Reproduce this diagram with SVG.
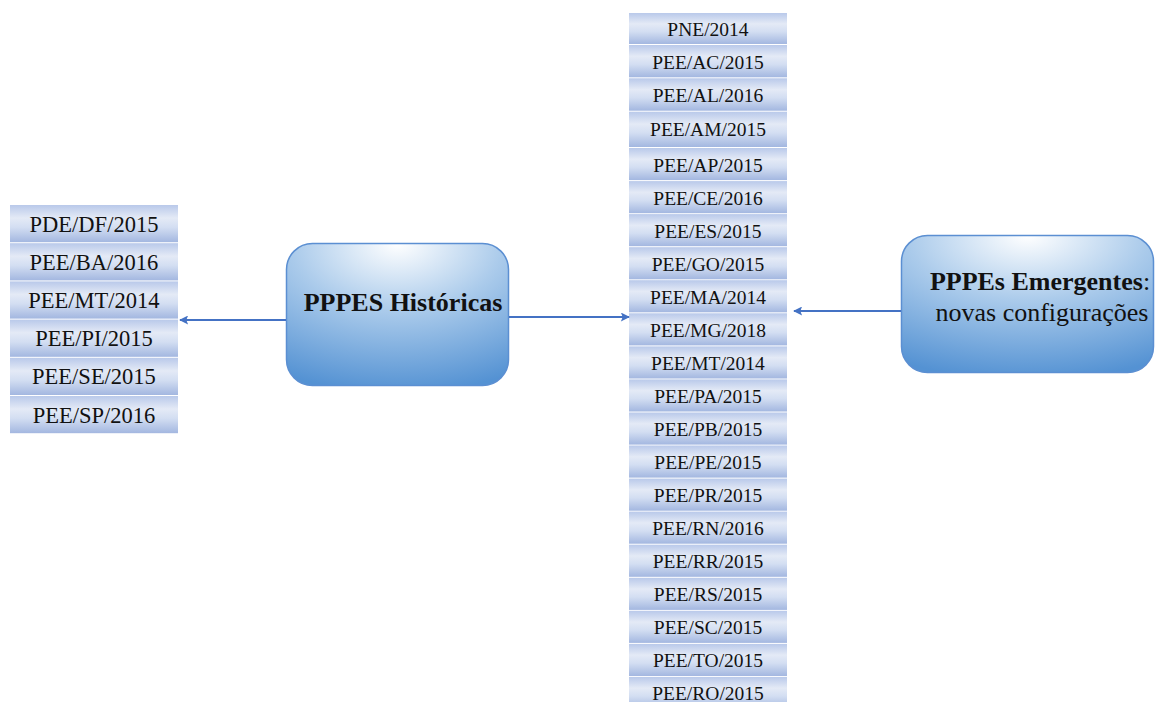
<svg xmlns="http://www.w3.org/2000/svg" width="1155" height="702" viewBox="0 0 1155 702">
  <defs>
    <linearGradient id="cellFill" x1="0" y1="0" x2="0" y2="1">
      <stop offset="0" stop-color="#b9c9ea"/>
      <stop offset="0.35" stop-color="#e4eaf6"/>
      <stop offset="0.6" stop-color="#d3def2"/>
      <stop offset="1" stop-color="#a3b7e0"/>
    </linearGradient>
    <radialGradient id="boxFill" cx="0.5" cy="0" r="1.05" fx="0.5" fy="0">
      <stop offset="0" stop-color="#ffffff"/>
      <stop offset="0.45" stop-color="#abcbeb"/>
      <stop offset="1" stop-color="#5492d3"/>
    </radialGradient>
    <marker id="arrow" viewBox="0 0 10 10" refX="9" refY="5" markerWidth="11" markerHeight="9" markerUnits="userSpaceOnUse" orient="auto">
      <path d="M0,0 L10,5 L0,10 L2,5 Z" fill="#4472c4"/>
    </marker>
    <style>
      .cell { fill: url(#cellFill); }
      .lbl { fill: #111; text-anchor: middle; font-family: 'Liberation Serif', 'Times New Roman', serif; }
      .box { fill: url(#boxFill); stroke: #5b8fd2; stroke-width: 1.5; }
      .big { fill: #111; text-anchor: middle; font-family: 'Liberation Serif', 'Times New Roman', serif; font-size: 26px; }
      .conn { stroke: #4472c4; stroke-width: 2; fill: none; marker-end: url(#arrow); }
    </style>
  </defs>

  <!-- left list -->
  <g id="left-list" font-size="22.5">
    <rect class="cell" x="10" y="205" width="168" height="37.2"/>
    <text class="lbl" x="94" y="231.5">PDE/DF/2015</text>
    <rect class="cell" x="10" y="243.2" width="168" height="37.2"/>
    <text class="lbl" x="94" y="269.7">PEE/BA/2016</text>
    <rect class="cell" x="10" y="281.4" width="168" height="37.2"/>
    <text class="lbl" x="94" y="307.9">PEE/MT/2014</text>
    <rect class="cell" x="10" y="319.6" width="168" height="37.2"/>
    <text class="lbl" x="94" y="346.1">PEE/PI/2015</text>
    <rect class="cell" x="10" y="357.8" width="168" height="37.2"/>
    <text class="lbl" x="94" y="384.3">PEE/SE/2015</text>
    <rect class="cell" x="10" y="396" width="168" height="37.2"/>
    <text class="lbl" x="94" y="422.5">PEE/SP/2016</text>
  </g>

  <!-- central list -->
  <g id="mid-list" font-size="19.5">
    <rect class="cell" x="629" y="13" width="158" height="31"/>
    <text class="lbl" x="708" y="36">PNE/2014</text>
    <rect class="cell" x="629" y="45" width="158" height="32.3"/>
    <text class="lbl" x="708" y="68.5">PEE/AC/2015</text>
    <rect class="cell" x="629" y="78.3" width="158" height="32.4"/>
    <text class="lbl" x="708" y="102">PEE/AL/2016</text>
    <rect class="cell" x="629" y="111.7" width="158" height="35.3"/>
    <text class="lbl" x="708" y="135.5">PEE/AM/2015</text>
    <rect class="cell" x="629" y="148" width="158" height="32.1"/>
    <text class="lbl" x="708" y="171.5">PEE/AP/2015</text>
    <rect class="cell" x="629" y="181.1" width="158" height="32.1"/>
    <text class="lbl" x="708" y="204.5">PEE/CE/2016</text>
    <rect class="cell" x="629" y="214.1" width="158" height="32.1"/>
    <text class="lbl" x="708" y="237.5">PEE/ES/2015</text>
    <rect class="cell" x="629" y="247.2" width="158" height="32.1"/>
    <text class="lbl" x="708" y="270.5">PEE/GO/2015</text>
    <rect class="cell" x="629" y="280.2" width="158" height="32.1"/>
    <text class="lbl" x="708" y="303.5">PEE/MA/2014</text>
    <rect class="cell" x="629" y="313.3" width="158" height="32.1"/>
    <text class="lbl" x="708" y="336.5">PEE/MG/2018</text>
    <rect class="cell" x="629" y="346.4" width="158" height="32.1"/>
    <text class="lbl" x="708" y="369.5">PEE/MT/2014</text>
    <rect class="cell" x="629" y="379.4" width="158" height="32.1"/>
    <text class="lbl" x="708" y="402.5">PEE/PA/2015</text>
    <rect class="cell" x="629" y="412.5" width="158" height="32.1"/>
    <text class="lbl" x="708" y="435.5">PEE/PB/2015</text>
    <rect class="cell" x="629" y="445.5" width="158" height="32.1"/>
    <text class="lbl" x="708" y="468.5">PEE/PE/2015</text>
    <rect class="cell" x="629" y="478.6" width="158" height="32.1"/>
    <text class="lbl" x="708" y="501.5">PEE/PR/2015</text>
    <rect class="cell" x="629" y="511.6" width="158" height="32.1"/>
    <text class="lbl" x="708" y="534.5">PEE/RN/2016</text>
    <rect class="cell" x="629" y="544.7" width="158" height="32.1"/>
    <text class="lbl" x="708" y="567.5">PEE/RR/2015</text>
    <rect class="cell" x="629" y="577.8" width="158" height="32.1"/>
    <text class="lbl" x="708" y="600.5">PEE/RS/2015</text>
    <rect class="cell" x="629" y="610.8" width="158" height="32.1"/>
    <text class="lbl" x="708" y="633.5">PEE/SC/2015</text>
    <rect class="cell" x="629" y="643.9" width="158" height="32.1"/>
    <text class="lbl" x="708" y="666.5">PEE/TO/2015</text>
    <rect class="cell" x="629" y="676.9" width="158" height="32.1"/>
    <text class="lbl" x="708" y="700">PEE/RO/2015</text>
  </g>

  <!-- historic policies box -->
  <g id="historicas">
    <rect class="box" x="286.5" y="243.5" width="222" height="142" rx="26" ry="26"/>
    <text class="big" x="403" y="311" font-weight="bold">PPPES Históricas</text>
  </g>

  <!-- emerging policies box -->
  <g id="emergentes">
    <rect class="box" x="901.5" y="235.5" width="252" height="137" rx="26" ry="26"/>
    <text class="big" x="1040" y="290"><tspan font-weight="bold">PPPEs Emergentes</tspan>:</text>
    <text class="big" x="1042" y="321">novas configurações</text>
  </g>

  <!-- connectors -->
  <g id="connectors">
    <line class="conn" x1="286" y1="320" x2="180" y2="320"/>
    <line class="conn" x1="509" y1="317" x2="629" y2="317"/>
    <line class="conn" x1="901" y1="311" x2="794" y2="311"/>
  </g>
</svg>
